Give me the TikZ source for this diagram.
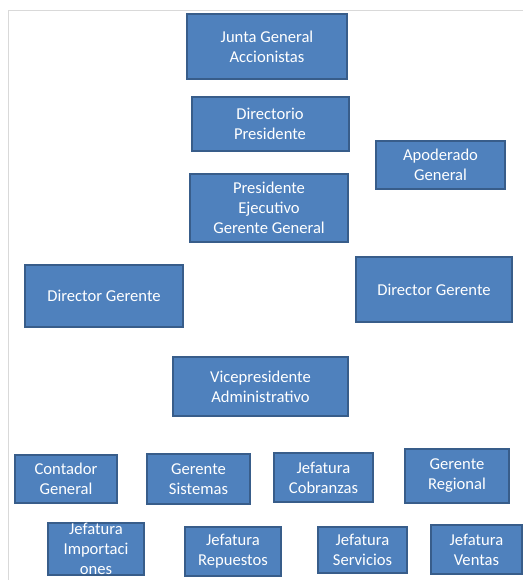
\documentclass[tikz,border=0pt]{standalone}
\usepackage{fontspec}
\setmainfont{Carlito}
\definecolor{boxblue}{HTML}{4F81BD}
\definecolor{boxedge}{HTML}{385D8A}
\definecolor{framegray}{HTML}{D9D9D9}
\begin{document}
\begin{tikzpicture}[x=1pt, y=-1pt,
  orgbox/.style={draw=boxedge, fill=boxblue, line width=2pt, text=white, align=center, inner sep=0pt, font=\fontsize{16.6}{20}\selectfont}
]
\fill[white] (0,0) rectangle (523,580);
\useasboundingbox (0,0) rectangle (523,580);
\draw[framegray, line width=1pt] (8,580) -- (8,10.5) -- (523,10.5);
\node[orgbox, minimum width=160pt, minimum height=65pt] (junta) at (267,46.5) {Junta General\\Accionistas};
\node[orgbox, minimum width=157pt, minimum height=54pt] (directorio) at (270,124) {Directorio\\Presidente};
\node[orgbox, minimum width=129pt, minimum height=48pt] (apoderado) at (440.5,165) {Apoderado\\General};
\node[orgbox, minimum width=158pt, minimum height=68pt] (presidente) at (269,208) {Presidente\\Ejecutivo\\Gerente General};
\node[orgbox, minimum width=158pt, minimum height=62pt] (dirleft) at (104,296) {Director Gerente};
\node[orgbox, minimum width=156pt, minimum height=65pt] (dirright) at (434,289.5) {Director Gerente};
\node[orgbox, minimum width=175pt, minimum height=59pt] (vicepres) at (260.5,386.5) {Vicepresidente\\Administrativo};
\node[orgbox, minimum width=102pt, minimum height=48pt] (contador) at (66,479) {Contador\\General};
\node[orgbox, minimum width=103pt, minimum height=50pt] (sistemas) at (198.5,479) {Gerente\\Sistemas};
\node[orgbox, minimum width=99pt, minimum height=49pt] (cobranzas) at (323.5,477.5) {Jefatura\\Cobranzas};
\node[orgbox, minimum width=104pt, minimum height=54pt] (regional) at (457,476) {Gerente\\Regional};
\node[orgbox, minimum width=96pt, minimum height=52pt] (importaciones) at (96,549) {\parbox[c][40pt][c]{90pt}{\centering Jefatura\\Importaci\\ones}};
\node[orgbox, minimum width=96pt, minimum height=49pt] (repuestos) at (233,551.5) {Jefatura\\Repuestos};
\node[orgbox, minimum width=89pt, minimum height=46pt] (servicios) at (362.5,550) {Jefatura\\Servicios};
\node[orgbox, minimum width=91pt, minimum height=49pt] (ventas) at (476.5,549.5) {Jefatura\\Ventas};
\end{tikzpicture}
\end{document}
